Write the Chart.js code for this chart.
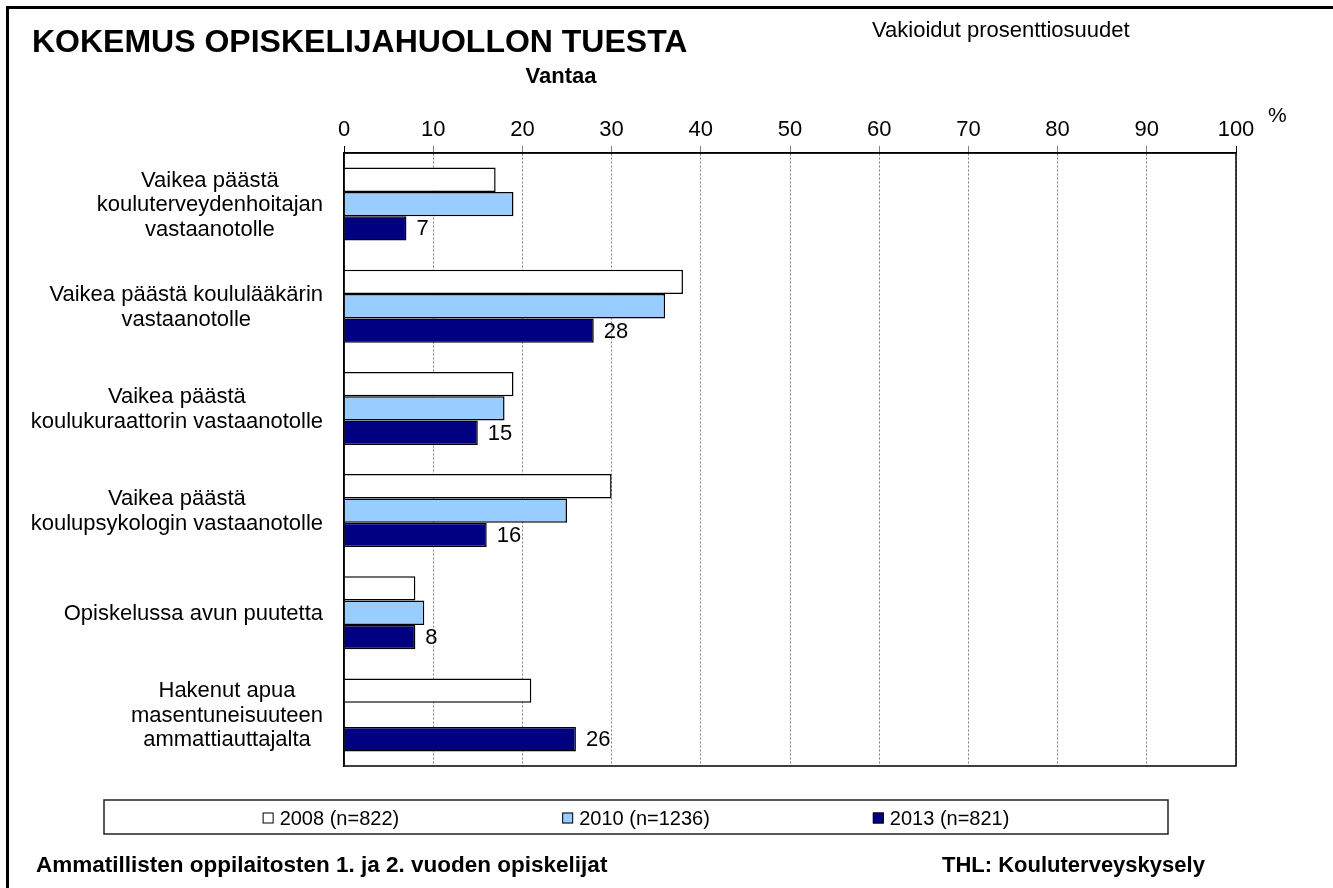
<!DOCTYPE html>
<html><head><meta charset="utf-8">
<script src="https://cdn.jsdelivr.net/npm/chart.js@4.4.0/dist/chart.umd.min.js"></script>
<style>html,body{margin:0;padding:0;background:#fff;} canvas{display:block;}</style>
</head><body>
<canvas id="c" width="1333" height="888"></canvas>
<script>
const categories = [
  ["Vaikea päästä", "kouluterveydenhoitajan", "vastaanotolle"],
  ["Vaikea päästä koululääkärin", "vastaanotolle"],
  ["Vaikea päästä", "koulukuraattorin vastaanotolle"],
  ["Vaikea päästä", "koulupsykologin vastaanotolle"],
  ["Opiskelussa avun puutetta"],
  ["Hakenut apua", "masentuneisuuteen", "ammattiauttajalta"]
];
const series2008 = [17, 38, 19, 30, 8, 21];
const series2010 = [19, 36, 18, 25, 9, null];
const series2013 = [7, 28, 15, 16, 8, 26];
const seriesLabels = ["2008 (n=822)", "2010 (n=1236)", "2013 (n=821)"];
const xTickValues = [0, 10, 20, 30, 40, 50, 60, 70, 80, 90, 100];
const titleText = "KOKEMUS OPISKELIJAHUOLLON TUESTA";
const subtitleText = "Vantaa";
const noteText = "Vakioidut prosenttiosuudet";
const unitText = "%";
const footerLeft = "Ammatillisten oppilaitosten 1. ja 2. vuoden opiskelijat";
const footerRight = "THL: Kouluterveyskysely";

const FONT = "'Liberation Sans', Arial, Helvetica, sans-serif";

const decor = {
  id: 'decor',
  afterDatasetsDraw(chart) {
    const ctx = chart.ctx;
    const a = chart.chartArea;
    ctx.save();
    ctx.strokeStyle = '#000';
    ctx.lineWidth = 1.5;
    ctx.strokeRect(a.left, a.top, a.right - a.left, a.bottom - a.top);
    // data labels for last series
    const meta = chart.getDatasetMeta(2);
    ctx.fillStyle = '#000';
    ctx.font = '22px ' + FONT;
    ctx.textAlign = 'left';
    ctx.textBaseline = 'middle';
    meta.data.forEach((el, i) => {
      const v = chart.data.datasets[2].data[i];
      if (v === null || v === undefined) return;
      ctx.fillText(String(v), el.x + 10, el.y + 1);
    });
    ctx.restore();
  },
  afterDraw(chart) {
    const ctx = chart.ctx;
    const a = chart.chartArea;
    ctx.save();
    // outer frame
    ctx.strokeStyle = '#000';
    ctx.lineWidth = 3;
    ctx.beginPath();
    ctx.moveTo(7.5, 888);
    ctx.lineTo(7.5, 7.5);
    ctx.lineTo(1333, 7.5);
    ctx.stroke();
    // titles
    ctx.fillStyle = '#000';
    ctx.textBaseline = 'alphabetic';
    ctx.textAlign = 'left';
    ctx.font = 'bold 32px ' + FONT;
    ctx.fillText(titleText, 32, 52);
    ctx.font = 'bold 22px ' + FONT;
    ctx.textAlign = 'center';
    ctx.fillText(subtitleText, 561, 83);
    ctx.textAlign = 'left';
    ctx.font = '22px ' + FONT;
    ctx.fillText(noteText, 872, 37);
    ctx.font = '21px ' + FONT;
    ctx.fillText(unitText, 1268, 122);
    // y category labels: each block right aligned, lines centred within block
    const ys = chart.scales.y;
    ctx.font = '22px ' + FONT;
    ctx.textBaseline = 'middle';
    ctx.textAlign = 'center';
    const lineH = 24.5;
    const rightEdge = a.left - 21;
    categories.forEach((lines, i) => {
      const yc = ys.getPixelForValue(i);
      let widest = 0;
      lines.forEach(l => { widest = Math.max(widest, ctx.measureText(l).width); });
      const cx = rightEdge - widest / 2;
      const y0 = yc - (lines.length - 1) * lineH / 2;
      lines.forEach((l, k) => ctx.fillText(l, cx, y0 + k * lineH + 1));
    });
    // legend box
    ctx.lineWidth = 1.5;
    ctx.strokeStyle = '#222';
    ctx.strokeRect(104, 800, 1064, 34);
    ctx.font = '20px ' + FONT;
    ctx.textAlign = 'left';
    const box = 11, gapBox = 6, gapItem = 163;
    const ds = chart.data.datasets;
    const widths = ds.map(d => box + gapBox + ctx.measureText(d.label).width);
    const total = widths.reduce((s, w) => s + w, 0) + gapItem * (ds.length - 1);
    let x = 636 - total / 2;
    const ly = 818;
    ds.forEach((d, i) => {
      ctx.fillStyle = d.backgroundColor;
      ctx.fillRect(x, ly - box / 2, box, box);
      ctx.strokeStyle = '#000';
      ctx.lineWidth = 1;
      ctx.strokeRect(x + 0.5, ly - box / 2 + 0.5, box - 1, box - 1);
      ctx.fillStyle = '#000';
      ctx.fillText(d.label, x + box + gapBox, ly + 1);
      x += widths[i] + gapItem;
    });
    // footer
    ctx.font = 'bold 22.5px ' + FONT;
    ctx.fillText(footerLeft, 36, 866);
    ctx.font = 'bold 22px ' + FONT;
    ctx.fillText(footerRight, 942, 866);
    ctx.restore();
  }
};

new Chart(document.getElementById('c'), {
  type: 'bar',
  data: {
    labels: categories,
    datasets: [
      { label: seriesLabels[0], data: series2008, backgroundColor: '#FFFFFF', borderColor: '#000', borderWidth: 1.5 },
      { label: seriesLabels[1], data: series2010, backgroundColor: '#99CCFF', borderColor: '#000', borderWidth: 1.5 },
      { label: seriesLabels[2], data: series2013, backgroundColor: '#000080', borderColor: '#000', borderWidth: 1.5 }
    ]
  },
  options: {
    indexAxis: 'y',
    responsive: false,
    animation: false,
    datasets: { bar: { categoryPercentage: 0.714, barPercentage: 1.0 } },
    layout: { padding: { left: 344, right: 97, top: 113, bottom: 122 } },
    plugins: { legend: { display: false }, tooltip: { enabled: false }, title: { display: false } },
    scales: {
      x: {
        position: 'top',
        min: 0, max: 100,
        afterBuildTicks(s) { s.ticks = xTickValues.map(v => ({ value: v })); },
        ticks: { font: { size: 22, family: FONT }, color: '#000', padding: 3, maxRotation: 0, autoSkip: false },
        grid: {
          color: '#808080', lineWidth: 1, tickLength: 7,
          tickColor: c => (c.tick && (c.tick.value === 0 || c.tick.value === 100)) ? '#000' : '#808080'
        },
        border: { display: true, color: '#000', width: 1.5, dash: [2, 2] },
        afterFit(s) { s.height = 40; }
      },
      y: {
        type: 'category',
        grid: { display: false, drawTicks: false },
        ticks: { display: false },
        border: { display: true, color: '#000', width: 1.5 },
        afterFit(s) { s.width = 0; }
      }
    }
  },
  plugins: [decor]
});
</script>
</body></html>
